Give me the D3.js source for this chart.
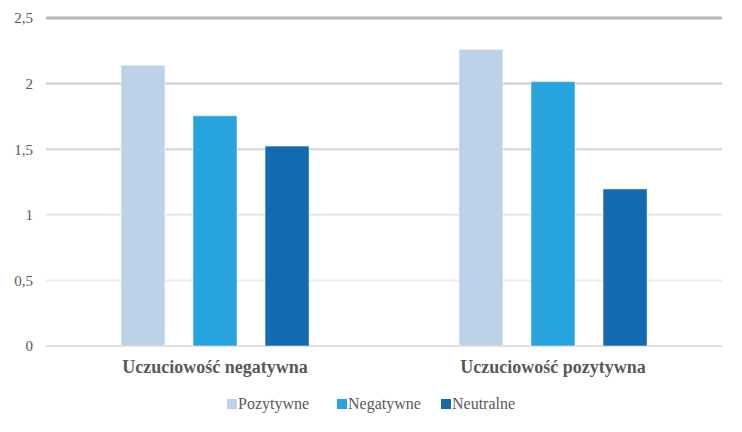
<!DOCTYPE html>
<html>
<head>
<meta charset="utf-8">
<script src="https://cdn.jsdelivr.net/npm/d3@7"></script>
</head>
<body style="margin:0;background:#fff">
<script>
const categories = ["Uczuciowość negatywna", "Uczuciowość pozytywna"];
const seriesNames = ["Pozytywne", "Negatywne", "Neutralne"];
const pozytywne = [2.14, 2.26];
const negatywne = [1.755, 2.015];
const neutralne = [1.524, 1.197];
const yTicks = [0, 0.5, 1, 1.5, 2, 2.5];

const colors = ["#bcd2e8", "#27a3dd", "#146aaf"];
const gridStyle = {
  0: ["#d4d4d4", 1.5], 0.5: ["#eeeeee", 2], 1: ["#e8e8e8", 2],
  1.5: ["#dadada", 2.5], 2: ["#cccccc", 2], 2.5: ["#b5b5b5", 3]
};
const FONT = "'Liberation Serif'";
const TEXT_COLOR = "#595959";

const [width, height] = [742, 432];
const margin = { left: 46, right: 20, top: 18, bottom: 86 };

const svg = d3.select("body").append("svg")
  .attr("width", width)
  .attr("height", height)
  .attr("font-family", "Liberation Serif")
  .style("display", "block");

const x = d3.scaleBand()
  .domain(categories)
  .range([margin.left, width - margin.right]);

const x1 = d3.scaleBand()
  .domain(seriesNames)
  .range([0, x.bandwidth()])
  .paddingInner(0.389)
  .paddingOuter(1.04);

const y = d3.scaleLinear()
  .domain([0, 2.5])
  .range([height - margin.bottom, margin.top]);

// grid lines
svg.append("g")
  .selectAll("line")
  .data(yTicks)
  .enter()
  .append("line")
  .attr("x1", margin.left)
  .attr("x2", width - margin.right)
  .attr("y1", d => y(d))
  .attr("y2", d => y(d))
  .attr("stroke", d => gridStyle[d][0])
  .attr("stroke-width", d => gridStyle[d][1]);

// y axis labels
const yAxis = svg.append("g")
  .attr("transform", `translate(${margin.left - 13},0)`)
  .call(d3.axisLeft(y).tickValues(yTicks).tickSize(0).tickPadding(0)
    .tickFormat(d => String(d).replace(".", ",")))
  .attr("font-family", "Liberation Serif");
yAxis.select(".domain").remove();
yAxis.selectAll("text")
  .style("font-family", FONT)
  .style("font-size", "15px")
  .attr("fill", TEXT_COLOR);

const data = categories.map((c, i) => ({
  category: c,
  values: [pozytywne[i], negatywne[i], neutralne[i]]
}));

const group = svg.selectAll(".group")
  .data(data)
  .enter()
  .append("g")
  .classed("group", true)
  .attr("transform", d => `translate(${x(d.category)},0)`);

group.selectAll("rect")
  .data(d => d.values.map((v, i) => ({ key: seriesNames[i], value: v, i })))
  .enter()
  .append("rect")
  .attr("x", d => x1(d.key))
  .attr("width", x1.bandwidth())
  .attr("y", d => y(d.value))
  .attr("height", d => y(0) - y(d.value))
  .attr("fill", d => colors[d.i])
  .attr("stroke", "rgba(255,255,255,0.5)")
  .attr("stroke-width", 1);

// category labels
const xAxis = svg.append("g")
  .attr("transform", `translate(0,${y(0)})`)
  .call(d3.axisBottom(x).tickSize(0).tickPadding(14))
  .attr("font-family", "Liberation Serif");
xAxis.select(".domain").remove();
xAxis.selectAll("text")
  .style("font-family", FONT)
  .style("font-size", "18px")
  .style("font-weight", "bold")
  .attr("fill", TEXT_COLOR);

// legend
const legendX = [227, 337, 441];
const legend = svg.append("g")
  .selectAll("g")
  .data(seriesNames)
  .enter()
  .append("g")
  .attr("transform", (d, i) => `translate(${legendX[i]},399)`);

legend.append("rect")
  .attr("width", 10)
  .attr("height", 10)
  .attr("fill", (d, i) => colors[i]);

legend.append("text")
  .attr("x", 11)
  .attr("y", 10)
  .style("font-family", FONT)
  .style("font-size", "16px")
  .attr("fill", TEXT_COLOR)
  .text(d => d);
</script>
</body>
</html>
